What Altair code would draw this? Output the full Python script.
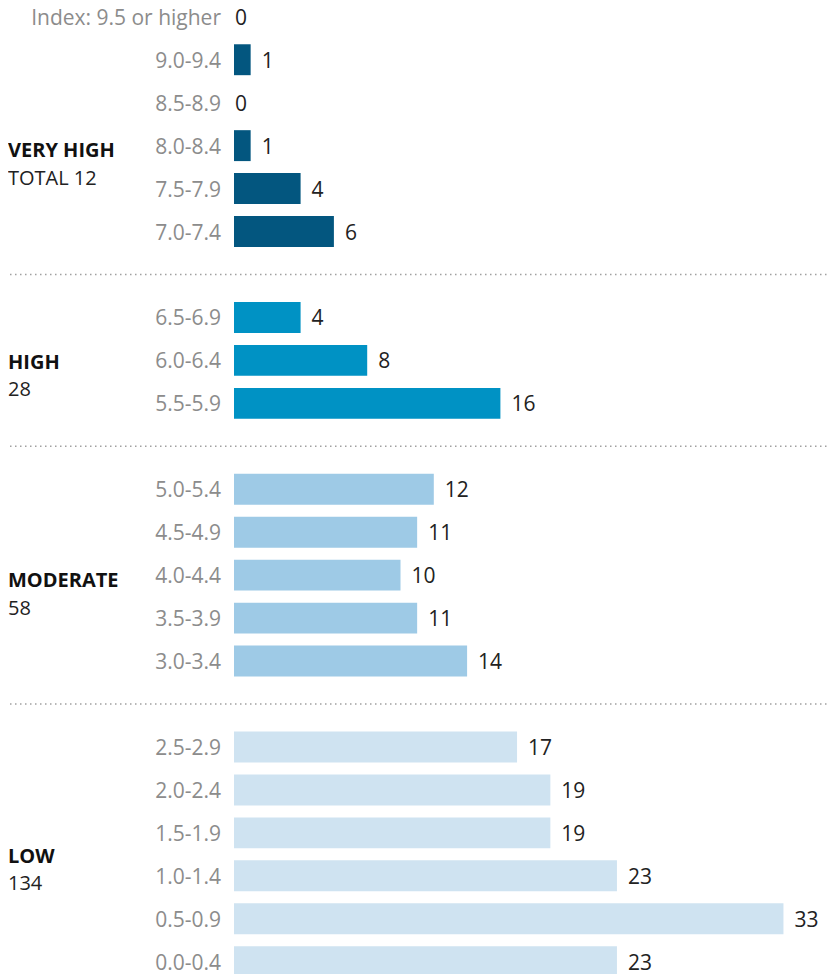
import altair as alt
import pandas as pd

# ---- data ----
bins = ["Index: 9.5 or higher", "9.0-9.4", "8.5-8.9", "8.0-8.4", "7.5-7.9", "7.0-7.4",
        "6.5-6.9", "6.0-6.4", "5.5-5.9",
        "5.0-5.4", "4.5-4.9", "4.0-4.4", "3.5-3.9", "3.0-3.4",
        "2.5-2.9", "2.0-2.4", "1.5-1.9", "1.0-1.4", "0.5-0.9", "0.0-0.4"]
counts = [0, 1, 0, 1, 4, 6,
          4, 8, 16,
          12, 11, 10, 11, 14,
          17, 19, 19, 23, 33, 23]
levels = ["VERY HIGH"] * 6 + ["HIGH"] * 3 + ["MODERATE"] * 5 + ["LOW"] * 6

group_names = ["VERY HIGH", "HIGH", "MODERATE", "LOW"]
group_totals = ["TOTAL 12", "28", "58", "134"]
group_anchor = ["8.0-8.4", "6.0-6.4", "4.0-4.4", "1.5-1.9"]
colors = ["#03567f", "#0092c4", "#9ecae6", "#cfe3f1"]

# ---- tables ----
domain = []
separators = []
prev = None
for b, lv in zip(bins, levels):
    if prev is not None and lv != prev:
        s = f"sep{len(separators) + 1}"
        separators.append(s)
        domain.append(s)
    domain.append(b)
    prev = lv

df = pd.DataFrame({"bin": bins, "count": counts, "level": levels})
sep_df = pd.DataFrame({"bin": separators})
grp_df = pd.DataFrame({"level": group_names, "total": group_totals, "bin": group_anchor})

FONT = "Open Sans"
FS = 21
FS_G = 20
DY = 2

y = alt.Y("bin:N",
          scale=alt.Scale(domain=domain, range=[-12.7, 975.2],
                          paddingInner=0.28, paddingOuter=0.14),
          axis=None)
x = alt.X("count:Q", scale=alt.Scale(domain=[0, 36], range=[226, 825.4]), axis=None)

base = alt.Chart(df)

bars = base.mark_bar().encode(
    x=x, y=y,
    color=alt.Color("level:N", scale=alt.Scale(domain=group_names, range=colors), legend=None),
)

row_labels = base.mark_text(align="right", baseline="middle", font=FONT, fontSize=FS,
                            color="#8c8c8c", dy=DY).encode(
    y=y, x=alt.value(213), text="bin:N")

val_nonzero = base.transform_filter("datum.count > 0").mark_text(
    align="left", baseline="middle", font=FONT, fontSize=FS, color="#222222", dx=11, dy=DY
).encode(x=x, y=y, text="count:Q")

val_zero = base.transform_filter("datum.count == 0").mark_text(
    align="left", baseline="middle", font=FONT, fontSize=FS, color="#222222", dx=1, dy=DY
).encode(x=x, y=y, text="count:Q")

seps = alt.Chart(sep_df).mark_rule(strokeDash=[1.5, 3.5], color="#a0a0a0", strokeWidth=1.5).encode(
    y=y, x=alt.value(2), x2=alt.value(824))

# per-group vertical offsets of the side labels (style)
title_dy = {"VERY HIGH": 5.5, "HIGH": 2.5, "MODERATE": 6, "LOW": 24}
line_gap = 27.5

group_layers = []
for g in group_names:
    gc = alt.Chart(grp_df).transform_filter(alt.datum.level == g)
    group_layers.append(
        gc.mark_text(align="left", baseline="middle", font=FONT, fontSize=FS_G,
                     fontWeight="bold", color="#111111", dy=title_dy[g]).encode(
            y=y, x=alt.value(0), text="level:N"))
    group_layers.append(
        gc.mark_text(align="left", baseline="middle", font=FONT, fontSize=FS_G,
                     color="#222222", dy=title_dy[g] + line_gap).encode(
            y=y, x=alt.value(0), text="total:N"))

chart = alt.layer(seps, bars, row_labels, val_nonzero, val_zero, *group_layers).properties(
    width=822, height=966, padding=0, autosize="none"
).configure_view(stroke=None)

chart.save("out.html", embed_options={"renderer": "svg", "actions": False})
